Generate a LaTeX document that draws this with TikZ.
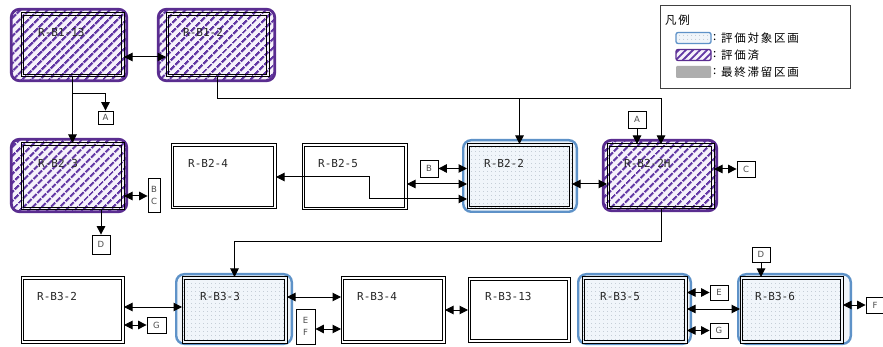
\documentclass[tikz,border=0pt]{standalone}
\usepackage{fontspec}
\setsansfont{DejaVu Sans}
\setmonofont{DejaVu Sans Mono}
\newfontfamily\jpfont[LetterSpace=15]{Noto Sans CJK JP}
\usetikzlibrary{arrows.meta,patterns.meta}
\definecolor{purp}{HTML}{5A2D90}
\definecolor{hatch}{HTML}{6238A4}
\definecolor{lav}{HTML}{F6F2FB}
\definecolor{bluebd}{HTML}{5E92C8}
\definecolor{bluebg}{HTML}{F0F5FA}
\definecolor{dotc}{HTML}{8C9AA8}
\tikzset{
 roomline/.style={draw=black, line width=1pt, inner sep=0pt, outer sep=0pt, anchor=north west,
   path picture={\draw[black, line width=1pt] ([shift={(2.7pt,-2.7pt)}]path picture bounding box.north west) rectangle ([shift={(-2.7pt,2.7pt)}]path picture bounding box.south east);}},
 plainroom/.style={roomline, fill=white},
 hatchfill/.style={preaction={fill=lav}, pattern={Lines[angle=45,distance=6.5pt,line width=2.5pt]}, pattern color=hatch},
 dotfill/.style={preaction={fill=bluebg}, pattern={Dots[radius=0.45pt,distance=4pt]}, pattern color=dotc},
 evalroom/.style={roomline, hatchfill},
 targroom/.style={roomline, dotfill},
 evalhalo/.style={draw=purp, line width=2.8pt, rounded corners=8pt, hatchfill, inner sep=0pt, outer sep=0pt, anchor=north west},
 targhalo/.style={draw=bluebd, line width=2.4pt, rounded corners=8pt, fill=bluebg, inner sep=0pt, outer sep=0pt, anchor=north west},
 roomlabel/.style={font=\ttfamily\fontsize{11}{12}\selectfont, text=black!85, inner sep=0pt, anchor=west},
 tag/.style={draw=black, line width=0.8pt, fill=white, font=\sffamily\fontsize{8.5}{12}\selectfont, text=black!70, inner sep=0pt, align=center},
 arr/.style={line width=1pt, -{Triangle[length=8.5pt,width=8.5pt]}},
 darr/.style={line width=1pt, {Triangle[length=8.5pt,width=8.5pt]}-{Triangle[length=8.5pt,width=8.5pt]}},
 legtext/.style={font=\jpfont\fontsize{11.5}{12}\selectfont, inner sep=0pt, anchor=west},
}
\begin{document}
\begin{tikzpicture}[x=1pt,y=-1pt]
\useasboundingbox[fill=white] (0,0) rectangle (883,347);

% halos
\node[evalhalo, minimum width=115.4pt, minimum height=71.4pt] (h113) at (11.3,9.3) {};
\node[evalhalo, minimum width=116.4pt, minimum height=71.4pt] (h12) at (158.3,9.3) {};
\node[evalhalo, minimum width=115.4pt, minimum height=72.4pt] (h23) at (11.3,139.3) {};
\node[targhalo, minimum width=113.6pt, minimum height=71.6pt] (h22) at (463.2,140.2) {};
\node[evalhalo, minimum width=113.4pt, minimum height=70.4pt] (h22H) at (603.3,140.3) {};
\node[targhalo, minimum width=115.6pt, minimum height=69.6pt] (h33) at (176.2,274.2) {};
\node[targhalo, minimum width=112.6pt, minimum height=69.6pt] (h35) at (578.2,274.2) {};
\node[targhalo, minimum width=112.6pt, minimum height=69.6pt] (h36) at (738.2,274.2) {};

% rooms
\node[evalroom, minimum width=103pt, minimum height=64pt] (b113) at (21,13) {};
\node[evalroom, minimum width=103pt, minimum height=64pt] (b12) at (166,13) {};
\node[evalroom, minimum width=103pt, minimum height=67pt] (b23) at (21,143) {};
\node[plainroom, minimum width=105pt, minimum height=65pt] (b24) at (171,144) {};
\node[plainroom, minimum width=105pt, minimum height=66pt] (b25) at (302,144) {};
\node[targroom, minimum width=105pt, minimum height=65pt] (b22) at (467,144) {};
\node[evalroom, minimum width=107pt, minimum height=65pt] (b22H) at (607,144) {};
\node[plainroom, minimum width=103pt, minimum height=66pt] (b32) at (21,277) {};
\node[targroom, minimum width=105pt, minimum height=66pt] (b33) at (182,277) {};
\node[plainroom, minimum width=104pt, minimum height=66pt] (b34) at (341,277) {};
\node[plainroom, minimum width=102pt, minimum height=64pt] (b313) at (468,278) {};
\node[targroom, minimum width=105pt, minimum height=66pt] (b35) at (582,277) {};
\node[targroom, minimum width=103pt, minimum height=66pt] (b36) at (740,277) {};

% tags
\node[tag, minimum width=15pt, minimum height=13pt] (tA1) at (105.5,117.5) {A};
\node[tag, minimum width=12pt, minimum height=34pt] (tBC) at (154,195) {B\\C};
\node[tag, minimum width=18pt, minimum height=19pt] (tD1) at (101,244.5) {D};
\node[tag, minimum width=18pt, minimum height=17pt] (tB) at (429,168.5) {B};
\node[tag, minimum width=18pt, minimum height=17pt] (tA2) at (637,119.5) {A};
\node[tag, minimum width=18pt, minimum height=16pt] (tC) at (746,169) {C};
\node[tag, minimum width=19pt, minimum height=16pt] (tG1) at (156.5,325) {G};
\node[tag, minimum width=19pt, minimum height=35pt] (tEF) at (305.5,326.5) {E\\F};
\node[tag, minimum width=18pt, minimum height=15pt] (tE) at (719,292.5) {E};
\node[tag, minimum width=18pt, minimum height=15pt] (tG2) at (719,330.5) {G};
\node[tag, minimum width=18pt, minimum height=15pt] (tD2) at (761,254.5) {D};
\node[tag, minimum width=18pt, minimum height=16pt] (tF) at (875,305) {F};

% junction coordinates
\coordinate (j1) at (73,94);
\coordinate (j2) at (661,99);
\coordinate (j3) at (661,242);
\coordinate (k1) at (369,177);
\coordinate (k2) at (369,199);

% connectors
\draw[darr] (b113.east |- 0,57) -- (b12.west |- 0,57);
\draw[arr] (b113.south) -- (b23.north);
\draw[arr] (j1) -| (tA1.north);
\draw[arr] (b12.south) |- (j2) -- (b22H.north -| j2);
\draw[arr] (b22.north |- j2) -- (b22.north);
\draw[darr] (b23.east |- 0,196) -- (tBC.west |- 0,196);
\draw[arr] (b23.south -| tD1) -- (tD1.north);
\draw[darr] (tB.east) -- (b22.west |- tB);
\draw[darr] (b25.east |- 0,184) -- (b22.west |- 0,184);
\draw[darr] (b24.east |- k1) -- (k1) -- (k2) -- (b22.west |- k2);
\draw[darr] (b22.east |- 0,184) -- (b22H.west |- 0,184);
\draw[arr] (tA2.south) -- (b22H.north -| tA2);
\draw[darr] (b22H.east |- tC) -- (tC.west);
\draw[arr] (b22H.south -| j3) -- (j3) -| (b33.north);
\draw[darr] (b32.east |- 0,307) -- (b33.west |- 0,307);
\draw[darr] (b32.east |- tG1) -- (tG1.west);
\draw[darr] (b33.east |- 0,297) -- (b34.west |- 0,297);
\draw[darr] (tEF.east |- 0,329) -- (b34.west |- 0,329);
\draw[darr] (b34.east |- 0,310) -- (b313.west |- 0,310);
\draw[darr] (b35.east |- tE) -- (tE.west);
\draw[darr] (b35.east |- tG2) -- (tG2.west);
\draw[darr] (b35.east |- 0,309) -- (b36.west |- 0,309);
\draw[arr] (tD2.south) -- (b36.north -| tD2);
\draw[darr] (b36.east |- tF) -- (tF.west);

% labels
\node[roomlabel] (l113) at (38,32) {R-B1-13};
\node[roomlabel] (l12) at (183,32) {R-B1-2};
\node[roomlabel] (l23) at (38,163) {R-B2-3};
\node[roomlabel] (l24) at (188,163) {R-B2-4};
\node[roomlabel] (l25) at (318,163) {R-B2-5};
\node[roomlabel] (l22) at (484,163) {R-B2-2};
\node[roomlabel] (l22H) at (624,163) {R-B2-2H};
\node[roomlabel] (l32) at (37,296) {R-B3-2};
\node[roomlabel] (l33) at (200,296) {R-B3-3};
\node[roomlabel] (l34) at (357,296) {R-B3-4};
\node[roomlabel] (l313) at (485,296) {R-B3-13};
\node[roomlabel] (l35) at (600,296) {R-B3-5};
\node[roomlabel] (l36) at (755,296) {R-B3-6};

% legend
\node[draw=black!75, line width=0.8pt, fill=white, minimum width=190pt, minimum height=83pt, inner sep=0pt, anchor=north west] (leg) at (660,5) {};
\node[legtext] (legt) at (665,20) {凡例};
\node[draw=bluebd, line width=1.3pt, rounded corners=2pt, dotfill, minimum width=35pt, minimum height=11pt, inner sep=0pt] (s1) at (693.5,38) {};
\node[draw=purp, line width=1.3pt, rounded corners=2pt, preaction={fill=lav}, pattern={Lines[angle=45,distance=5pt,line width=1.8pt]}, pattern color=hatch, minimum width=35pt, minimum height=11pt, inner sep=0pt] (s2) at (693.5,55) {};
\node[fill=black!32, rounded corners=1pt, minimum width=35pt, minimum height=12pt, inner sep=0pt] (s3) at (693.5,72) {};
\node[legtext] (c1) at (713,38) {:};
\node[legtext] (c2) at (713,55) {:};
\node[legtext] (c3) at (713,72) {:};
\node[legtext] (lt1) at (721,38) {評価対象区画};
\node[legtext] (lt2) at (721,55) {評価済};
\node[legtext] (lt3) at (721,72) {最終滞留区画};
\end{tikzpicture}
\end{document}
